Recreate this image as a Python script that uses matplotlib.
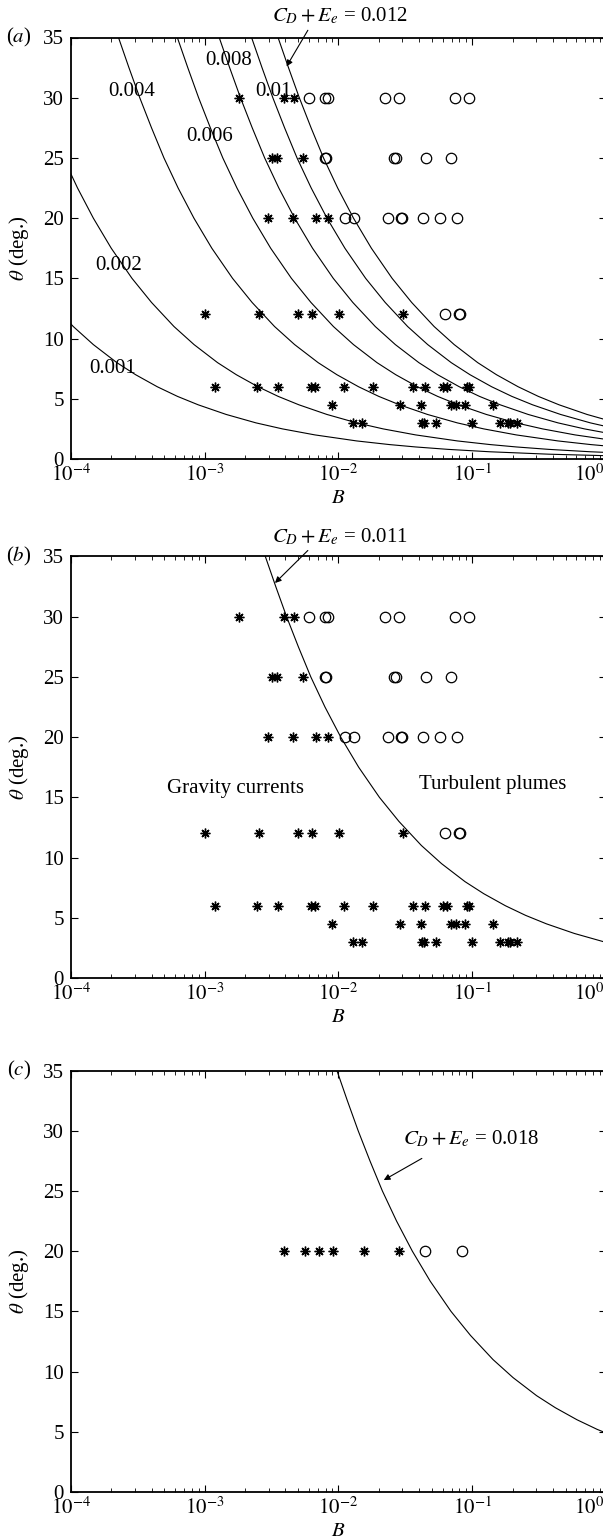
import numpy as np
import matplotlib
matplotlib.use('Agg')
import matplotlib.pyplot as plt
from matplotlib.ticker import LogLocator, NullFormatter

plt.rcParams['font.family'] = ['Liberation Serif', 'DejaVu Serif']
plt.rcParams['mathtext.fontset'] = 'stix'
plt.rcParams['font.size'] = 15

# experiments: gravity currents (stars) and turbulent plumes (circles)
star_B = [1.8e-3, 3.9e-3, 4.67e-3,
          3.16e-3, 3.48e-3, 5.44e-3,
          2.98e-3, 4.59e-3, 6.78e-3, 8.28e-3,
          1.0e-3, 2.55e-3, 4.94e-3, 6.29e-3, 0.0101, 0.0301,
          1.19e-3, 2.47e-3, 3.54e-3, 6.18e-3, 6.66e-3, 0.011, 0.018, 0.0361,
          0.0445, 0.0607, 0.0643, 0.0906, 0.094,
          8.87e-3, 0.0288, 0.0413, 0.0689, 0.075, 0.0881, 0.143,
          0.0129, 0.0149, 0.0418, 0.0434, 0.054, 0.0997, 0.161, 0.185, 0.191, 0.217]
star_theta = [30] * 3 + [25] * 3 + [20] * 4 + [12] * 6 + [6] * 13 + [4.5] * 7 + [3] * 10

circ_B = [6.0e-3, 7.9e-3, 8.4e-3, 0.0223, 0.0282, 0.0738, 0.0949,
          7.9e-3, 8.1e-3, 0.0262, 0.0267, 0.045, 0.069,
          0.01117, 0.0131, 0.0235, 0.0292, 0.0296, 0.043, 0.0573, 0.0771,
          0.0624, 0.0800, 0.0815]
circ_theta = [30] * 7 + [25] * 6 + [20] * 8 + [12] * 3

# panel (c)
star_B_c = [3.89e-3, 5.61e-3, 7.16e-3, 9.03e-3, 0.0156, 0.0284]
star_theta_c = [20] * 6
circ_B_c = [0.0443, 0.0842]
circ_theta_c = [20] * 2

# boundary curves C_D + E_e = const as log10(B) against theta
curve_theta = [35, 32.5, 30, 27.5, 25, 22.5, 20, 17.5, 15, 13, 11, 9.5, 8, 7, 6, 5.2,
               4.5, 3.7, 3, 2.5, 2, 1.5, 1.2, 1.0, 0.8, 0.6, 0.4, 0.25]
logB_001 = [-5.150, -5.072, -4.991, -4.903, -4.810, -4.704, -4.586, -4.452, -4.297, -4.151,
            -3.983, -3.833, -3.657, -3.517, -3.355, -3.204, -3.049, -2.840, -2.617, -2.419,
            -2.176, -1.864, -1.621, -1.423, -1.181, -0.868, -0.428, 0.082]
logB_002 = [-4.397, -4.319, -4.238, -4.150, -4.057, -3.951, -3.833, -3.699, -3.544, -3.398,
            -3.230, -3.080, -2.904, -2.764, -2.602, -2.451, -2.296, -2.087, -1.864, -1.666,
            -1.423, -1.111, -0.868, -0.670, -0.428, -0.115, 0.325, 0.835]
logB_004 = [-3.645, -3.567, -3.486, -3.398, -3.305, -3.199, -3.081, -2.947, -2.792, -2.646,
            -2.478, -2.328, -2.152, -2.012, -1.850, -1.699, -1.544, -1.335, -1.112, -0.914,
            -0.671, -0.359, -0.116, 0.082, 0.324, 0.637, 1.077, 1.587]
logB_006 = [-3.205, -3.127, -3.046, -2.958, -2.865, -2.759, -2.641, -2.507, -2.352, -2.206,
            -2.038, -1.888, -1.712, -1.572, -1.410, -1.259, -1.104, -0.895, -0.672, -0.474,
            -0.231, 0.081, 0.324, 0.522, 0.764, 1.077, 1.517, 2.027]
logB_008 = [-2.892, -2.814, -2.733, -2.645, -2.552, -2.446, -2.328, -2.194, -2.039, -1.893,
            -1.725, -1.575, -1.399, -1.259, -1.097, -0.946, -0.791, -0.582, -0.359, -0.161,
            0.082, 0.394, 0.637, 0.835, 1.077, 1.390, 1.830, 2.340]
logB_010 = [-2.650, -2.572, -2.491, -2.403, -2.310, -2.204, -2.086, -1.952, -1.797, -1.651,
            -1.483, -1.333, -1.157, -1.017, -0.855, -0.704, -0.549, -0.340, -0.117, 0.081,
            0.324, 0.636, 0.879, 1.077, 1.319, 1.632, 2.072, 2.582]
logB_012 = [-2.452, -2.374, -2.293, -2.205, -2.112, -2.006, -1.888, -1.754, -1.599, -1.453,
            -1.285, -1.135, -0.959, -0.819, -0.657, -0.506, -0.351, -0.142, 0.081, 0.279,
            0.522, 0.834, 1.077, 1.275, 1.517, 1.830, 2.270, 2.780]
logB_011 = [-2.547, -2.469, -2.388, -2.300, -2.207, -2.101, -1.983, -1.849, -1.694, -1.548,
            -1.380, -1.230, -1.054, -0.914, -0.752, -0.601, -0.446, -0.237, -0.014, 0.185,
            0.428, 0.740, 0.983, 1.181, 1.423, 1.736, 2.176, 2.686]
logB_018 = [-2.012, -1.934, -1.853, -1.765, -1.672, -1.566, -1.448, -1.314, -1.159, -1.013,
            -0.845, -0.695, -0.519, -0.379, -0.217, -0.066, 0.089, 0.298, 0.521, 0.719,
            0.962, 1.274, 1.517, 1.715, 1.957, 2.270, 2.710, 3.220]

# contour labels in (a)
label_text = ['0.001', '0.002', '0.004', '0.006', '0.008', '0.01']
label_B = [2.03e-4, 2.26e-4, 2.85e-4, 1.09e-3, 1.5e-3, 3.25e-3]
label_theta = [7.5, 16.1, 30.5, 26.8, 33.1, 30.5]

major_x = [1e-4, 1e-3, 1e-2, 1e-1, 1e0]
major_x_labels = [r'$10^{-4}$', r'$10^{-3}$', r'$10^{-2}$', r'$10^{-1}$', r'$10^{0}$']
theta_ticks = [0, 5, 10, 15, 20, 25, 30, 35]

W, H = 603.0, 1539.0
fig = plt.figure(figsize=(W / 100, H / 100), dpi=100)

# (top, bottom) of each plot box in pixels, and panel letter
panels = [(37.5, 459.0, 'a'), (556.5, 978.0, 'b'), (1070.5, 1492.0, 'c')]
axes = []
for top, bottom, letter in panels:
    ax = fig.add_axes([71 / W, 1 - bottom / H, (606 - 71) / W, (bottom - top) / H])
    ax.set_xscale('log')
    ax.set_xlim(1e-4, 1)
    ax.set_ylim(0, 35)
    ax.set_xticks(major_x)
    ax.set_xticklabels(major_x_labels[:-1] + [''])
    ax.xaxis.set_minor_locator(LogLocator(base=10, subs=np.arange(2, 10)))
    ax.xaxis.set_minor_formatter(NullFormatter())
    ax.set_yticks(theta_ticks)
    ax.tick_params(which='both', direction='in', top=True, right=True)
    ax.tick_params(which='major', length=5, width=0.8, pad=4)
    ax.tick_params(axis='y', which='major', pad=5)
    ax.tick_params(which='minor', length=3, width=0.6)
    ax.spines['right'].set_visible(False)
    for s in ['left', 'bottom', 'top']:
        ax.spines[s].set_linewidth(1.3)
    ax.set_xlabel(r'$B$', labelpad=2)
    ax.set_ylabel(r'$\theta$ (deg.)', labelpad=9)
    # last decade label pulled inside the picture edge
    ax.annotate(r'$10^{0}$', xy=(1, 0), xycoords=('data', 'axes fraction'),
                xytext=(-1, -4), textcoords='offset points',
                ha='right', va='top', annotation_clip=False)
    fig.text(19 / W, 1 - top / H, '($\\mathit{' + letter + '}$)', ha='center', va='center')
    axes.append(ax)

ax_a, ax_b, ax_c = axes

star_kw = dict(ls='none', marker=(8, 2, 0), ms=7, mew=1.0, color='black')
circ_kw = dict(ls='none', marker='o', ms=7.5, mew=0.9, mfc='none', mec='black')
line_kw = dict(color='black', lw=0.8)
arrow_kw = dict(arrowstyle='-|>', lw=0.8, color='black', mutation_scale=9,
                shrinkA=0, shrinkB=0)

# (a)
for logB in [logB_001, logB_002, logB_004, logB_006, logB_008, logB_010, logB_012]:
    ax_a.plot(10.0 ** np.array(logB), curve_theta, **line_kw)
for t, b, th in zip(label_text, label_B, label_theta):
    ax_a.text(b, th, t, ha='center', va='center')
ax_a.plot(star_B, star_theta, **star_kw)
ax_a.plot(circ_B, circ_theta, **circ_kw)
ax_a.text(0.0102, 36.8, r'$C_D + E_e$ = 0.012', ha='center', va='center')
ax_a.annotate('', xy=(4.09e-3, 32.6), xytext=(5.9e-3, 35.6), arrowprops=arrow_kw,
              annotation_clip=False)

# (b)
ax_b.plot(10.0 ** np.array(logB_011), curve_theta, **line_kw)
ax_b.plot(star_B, star_theta, **star_kw)
ax_b.plot(circ_B, circ_theta, **circ_kw)
ax_b.text(0.0102, 36.6, r'$C_D + E_e$ = 0.011', ha='center', va='center')
ax_b.annotate('', xy=(3.35e-3, 32.8), xytext=(5.9e-3, 35.5), arrowprops=arrow_kw,
              annotation_clip=False)
ax_b.text(1.71e-3, 15.7, 'Gravity currents', ha='center', va='center')
ax_b.text(0.1425, 16.1, 'Turbulent plumes', ha='center', va='center')

# (c)
ax_c.plot(10.0 ** np.array(logB_018), curve_theta, **line_kw)
ax_c.plot(star_B_c, star_theta_c, **star_kw)
ax_c.plot(circ_B_c, circ_theta_c, **circ_kw)
ax_c.text(0.0976, 29.3, r'$C_D + E_e$ = 0.018', ha='center', va='center')
ax_c.annotate('', xy=(0.0218, 25.9), xytext=(0.042, 27.7), arrowprops=arrow_kw)

fig.savefig('out.png', dpi=100)
